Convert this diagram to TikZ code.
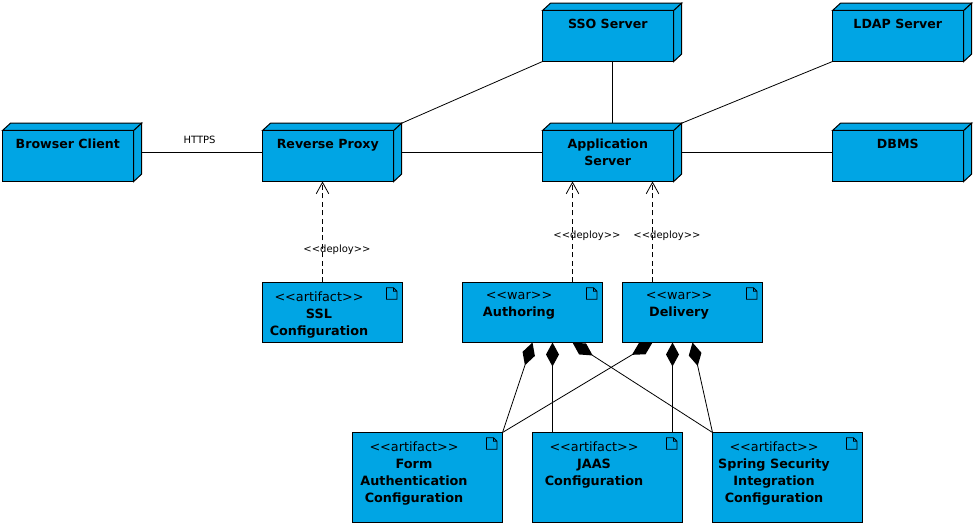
\documentclass[tikz,border=0pt]{standalone}
\usepackage{fontspec}
\setmainfont{DejaVu Sans}
\usetikzlibrary{arrows.meta,calc}
\definecolor{boxblue}{HTML}{00A5E4}
\tikzset{
  x=1pt, y=-1pt,
  boxface/.style={draw=black, fill=boxblue, line width=1pt, line join=miter},
  deviceshell/.style={inner sep=0pt, outer sep=0pt, minimum width=139.2pt, minimum height=58.3pt},
  artifactbox/.style={boxface, inner sep=0pt, outer sep=0pt},
  titletext/.style={font=\fontsize{12.6}{17}\selectfont\bfseries, align=center, inner sep=0pt, text depth=0pt},
  mixedtext/.style={font=\fontsize{12.8}{17}\selectfont, align=center, inner sep=0pt, anchor=north},
  link/.style={draw=black, line width=0.8pt},
  deploy/.style={link, dash pattern=on 5pt off 3.4pt, -{Straight Barb[length=11.5pt,width=12.6pt,line width=0.8pt]}},
  whole/.style={link, {Diamond[length=24pt,width=13pt,line width=0pt]}-},
  linklabel/.style={font=\fontsize{10}{12}\selectfont, inner sep=0pt},
}
% #1 name, #2 left, #3 top of the front face, #4 title
\newcommand{\devicenode}[4]{%
  \node[deviceshell] (#1) at ({#2+69.6},{#3+21.85}) {};
  \path[boxface] (#1.north west) ++(0pt,-7.3pt) -- ++(8pt,7.3pt) -- (#1.north east) -- ++(-8pt,-7.3pt) -- cycle;
  \path[boxface] (#1.north east) ++(-8pt,-7.3pt) -- (#1.north east) -- ($(#1.south east)+(0pt,7.5pt)$) -- ($(#1.south east)+(-8pt,0pt)$) -- cycle;
  \path[boxface] (#1.south west) rectangle ($(#1.north east)+(-8pt,-7.3pt)$);
  \node[titletext, anchor=north] (#1-title) at ($(#1.north)+(-4.3pt,-15.5pt)$) {#4};
}
% #1 name, #2 left, #3 top, #4 width, #5 height, #6 text
\newcommand{\artifactnode}[6]{%
  \node[artifactbox, minimum width=#4pt, minimum height=#5pt] (#1) at ({#2+#4/2},{#3+#5/2}) {};
  \node[mixedtext] (#1-text) at ($(#1.north)+(-13.5pt,-9.5pt)$) {#6};
  \draw[black, line width=0.8pt, line join=miter]
    ($(#1.north east)+(-16pt,-5.3pt)$) -- ++(7pt,0pt) -- ++(3.5pt,-3.5pt) -- ++(0pt,-8pt) -- ++(-10.5pt,0pt) -- cycle
    ($(#1.north east)+(-9pt,-5.3pt)$) -- ++(0pt,-3.5pt) -- ++(3.5pt,0pt);
}
\begin{document}
\begin{tikzpicture}
\useasboundingbox (0,0) rectangle (976,526);

% Execution environments
\devicenode{browser}{2.5}{130.5}{Browser Client}
\devicenode{proxy}{262.5}{130.5}{Reverse Proxy}
\devicenode{app}{542.5}{130.5}{Application\\Server}
\devicenode{dbms}{832.5}{130.5}{DBMS}
\devicenode{sso}{542.5}{10.5}{SSO Server}
\devicenode{ldap}{832.5}{10.5}{LDAP Server}

% Deployed artifacts
\artifactnode{ssl}{262.5}{282.5}{140}{60}{<{}<artifact>{}>\\\textbf{SSL}\\\textbf{Configuration}}
\artifactnode{authoring}{462.5}{282.5}{140}{60}{<{}<war>{}>\\\textbf{Authoring}}
\artifactnode{delivery}{622.5}{282.5}{140}{60}{<{}<war>{}>\\\textbf{Delivery}}
\artifactnode{form}{352.5}{432.5}{150}{90}{<{}<artifact>{}>\\\textbf{Form}\\\textbf{Authentication}\\\textbf{Configuration}}
\artifactnode{jaas}{532.5}{432.5}{150}{90}{<{}<artifact>{}>\\\textbf{JAAS}\\\textbf{Configuration}}
\artifactnode{spring}{712.5}{432.5}{150}{90}{<{}<artifact>{}>\\\textbf{Spring Security}\\\textbf{Integration}\\\textbf{Configuration}}

% Communication paths
\draw[link] (browser.east) -- node[linklabel, above=8pt, xshift=-2.5pt] (https) {HTTPS} (proxy.west);
\draw[link] (proxy.east) -- (app.west);
\draw[link] (app.east) -- (dbms.west);
\draw[link] (proxy.north east) -- (sso.south west);
\draw[link] (app.north east) -- (ldap.south west);
\draw[link] (sso.south) -- (app.north);

% Deployment dependencies
\coordinate (sslfoot) at ($(ssl.north)+(-10pt,0pt)$);
\coordinate (authfoot) at ($(authoring.north)+(40pt,0pt)$);
\coordinate (delivfoot) at ($(delivery.north)+(-40pt,0pt)$);
\draw[deploy] (sslfoot) -- (sslfoot |- proxy.south);
\draw[deploy] (authfoot) -- (authfoot |- app.south);
\draw[deploy] (delivfoot) -- (delivfoot |- app.south);
\node[linklabel] (deploy-ssl) at (337,249.5) {<{}<deploy>{}>};
\node[linklabel] (deploy-auth) at (587,235.5) {<{}<deploy>{}>};
\node[linklabel] (deploy-deliv) at (667,235.5) {<{}<deploy>{}>};

% Composition of the web archives
\coordinate (authjaas) at ($(authoring.south)+(20pt,0pt)$);
\coordinate (delivjaas) at ($(delivery.south)+(-20pt,0pt)$);
\draw[whole] (authoring.south) -- (form.north east);
\draw[whole] (authjaas) -- (authjaas |- jaas.north);
\draw[whole] ($(authoring.south)+(40pt,0pt)$) -- (spring.north west);
\draw[whole] ($(delivery.south)+(-40pt,0pt)$) -- (form.north east);
\draw[whole] (delivjaas) -- (delivjaas |- jaas.north);
\draw[whole] (delivery.south) -- (spring.north west);
\end{tikzpicture}
\end{document}
